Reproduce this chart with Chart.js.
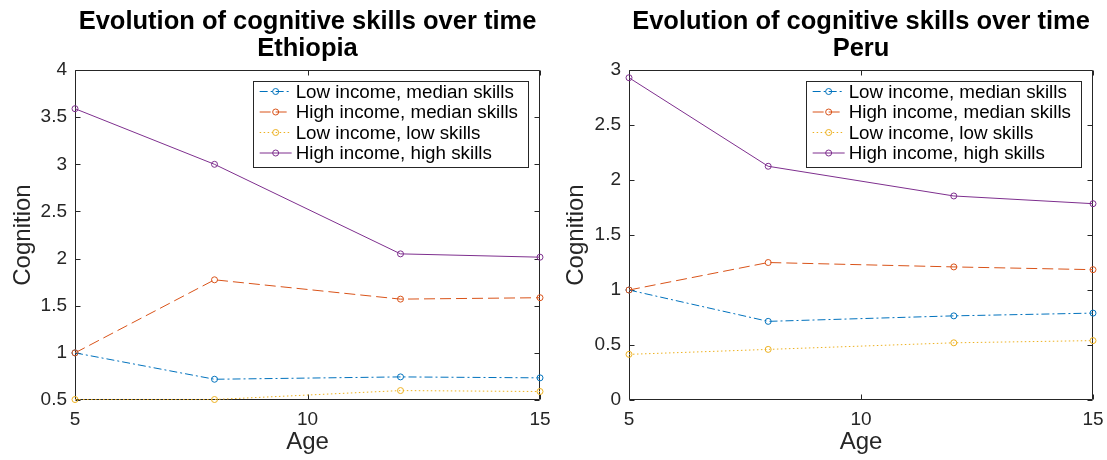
<!DOCTYPE html>
<html>
<head>
<meta charset="utf-8">
<script src="https://cdn.jsdelivr.net/npm/chart.js@4/dist/chart.umd.min.js"></script>
<style>
  html, body { margin: 0; padding: 0; background: #fff; }
  #wrap { position: relative; width: 1107px; height: 460px; overflow: hidden; }
  canvas { position: absolute; top: 0; }
  #left { left: 0; }
  #right { left: 553px; }
</style>
</head>
<body>
<div id="wrap">
  <canvas id="left" width="553" height="460"></canvas>
  <canvas id="right" width="554" height="460"></canvas>
</div>
<script>
// Cognition scores by age for four income/skill groups
const ages = [5, 8, 12, 15];
const seriesNames = [
  'Low income, median skills',
  'High income, median skills',
  'Low income, low skills',
  'High income, high skills'
];

const ethLowMedian  = [1.00, 0.72, 0.745, 0.735];
const ethHighMedian = [1.00, 1.775, 1.57, 1.585];
const ethLowLow     = [0.505, 0.505, 0.60, 0.59];
const ethHighHigh   = [3.59, 3.00, 2.05, 2.015];

const peruLowMedian  = [1.00, 0.715, 0.765, 0.79];
const peruHighMedian = [1.00, 1.25, 1.21, 1.185];
const peruLowLow     = [0.415, 0.46, 0.52, 0.54];
const peruHighHigh   = [2.93, 2.125, 1.855, 1.785];

const xTicks = [5, 10, 15];
const ethYTicks = [0.5, 1, 1.5, 2, 2.5, 3, 3.5, 4];
const peruYTicks = [0, 0.5, 1, 1.5, 2, 2.5, 3];

const titleText = 'Evolution of cognitive skills over time';
const xTitle = 'Age';
const yTitle = 'Cognition';

const FONT = "'Liberation Sans', Arial, Helvetica, sans-serif";
const AXIS = '#262626';
const colors = ['#0072BD', '#D95319', '#EDB120', '#7E2F8E'];
const dashes = [[8, 3, 2, 3], [11, 5], [1.5, 2.5], []];
const TICK = 5;

// Box around the plot area with inward tick marks on all four sides
const framePlugin = {
  id: 'frame',
  beforeDatasetsDraw(chart) {
    const { ctx, chartArea: a, scales: { x, y } } = chart;
    const L = Math.round(a.left) + 0.5, R = Math.round(a.right) - 0.5;
    const T = Math.round(a.top) + 0.5, B = Math.round(a.bottom) - 0.5;
    ctx.save();
    ctx.strokeStyle = AXIS;
    ctx.lineWidth = 1;
    ctx.beginPath();
    ctx.rect(L, T, R - L, B - T);
    x.ticks.forEach(t => {
      const px = Math.round(x.getPixelForValue(t.value)) + 0.5;
      ctx.moveTo(px, B); ctx.lineTo(px, B - TICK);
      ctx.moveTo(px, T); ctx.lineTo(px, T + TICK);
    });
    y.ticks.forEach(t => {
      const py = Math.round(y.getPixelForValue(t.value)) + 0.5;
      ctx.moveTo(L, py); ctx.lineTo(L + TICK, py);
      ctx.moveTo(R, py); ctx.lineTo(R - TICK, py);
    });
    ctx.stroke();
    ctx.restore();
  }
};

// Legend box drawn inside the upper right corner of the plot area
const insideLegend = {
  id: 'insideLegend',
  afterDraw(chart) {
    const { ctx, chartArea: a } = chart;
    const ds = chart.data.datasets;
    ctx.save();
    ctx.font = '18.8px ' + FONT;
    const textW = Math.max(...ds.map(d => ctx.measureText(d.label).width));
    const rowH = 20.5;
    const w = 43 + textW + 10;
    const h = rowH * ds.length + 4;
    const right = Math.round(a.right) - 12;
    const top = Math.round(a.top) + 11;
    const left = right - w;
    ctx.fillStyle = '#fff';
    ctx.fillRect(left, top, w, h);
    ctx.strokeStyle = AXIS;
    ctx.lineWidth = 1;
    ctx.strokeRect(Math.round(left) + 0.5, top + 0.5, Math.round(w), Math.round(h));
    ds.forEach((d, i) => {
      const cy = top + 10.5 + i * rowH;
      ctx.strokeStyle = d.borderColor;
      ctx.setLineDash(d.borderDash || []);
      ctx.beginPath();
      ctx.moveTo(left + 7, cy);
      ctx.lineTo(left + 39, cy);
      ctx.stroke();
      ctx.setLineDash([]);
      ctx.beginPath();
      ctx.arc(left + 23, cy, 3, 0, Math.PI * 2);
      ctx.stroke();
      ctx.fillStyle = '#000';
      ctx.textBaseline = 'middle';
      ctx.textAlign = 'left';
      ctx.fillText(d.label, left + 43, cy + 1);
    });
    ctx.restore();
  }
};

function makeChart(canvasId, country, values, yTicks, yMin, yMax, yWidth, padRight) {
  const datasets = values.map((vals, i) => ({
    label: seriesNames[i],
    data: ages.map((a, j) => ({ x: a, y: vals[j] })),
    borderColor: colors[i],
    borderWidth: 1,
    borderDash: dashes[i],
    pointStyle: 'circle',
    pointRadius: 3,
    pointHoverRadius: 3,
    pointBorderWidth: 1,
    pointBorderColor: colors[i],
    pointBackgroundColor: 'rgba(0,0,0,0)',
    tension: 0,
    fill: false,
    clip: false,
    order: values.length - i
  }));

  return new Chart(document.getElementById(canvasId), {
    type: 'line',
    data: { datasets },
    plugins: [framePlugin, insideLegend],
    options: {
      responsive: false,
      animation: false,
      devicePixelRatio: 1,
      layout: { padding: { left: 0, right: padRight, top: 0, bottom: 0 } },
      plugins: {
        legend: { display: false },
        tooltip: { enabled: false },
        title: {
          display: true,
          text: [titleText, country],
          fullSize: false,
          color: '#000',
          font: { family: FONT, size: 25.5, weight: 'bold', lineHeight: 1.04 },
          padding: { top: 9, bottom: 8 }
        }
      },
      scales: {
        x: {
          type: 'linear',
          min: 5, max: 15,
          afterBuildTicks: s => { s.ticks = xTicks.map(v => ({ value: v })); },
          afterFit: s => { s.height = 60; s.paddingLeft = 0; s.paddingRight = 0; },
          grid: { display: false, drawTicks: false },
          border: { display: false },
          ticks: {
            color: AXIS, padding: 8,
            font: { family: FONT, size: 19 },
            callback: v => String(v)
          },
          title: {
            display: true, text: xTitle, color: AXIS,
            font: { family: FONT, size: 24 },
            padding: { top: 0, bottom: 3 }
          }
        },
        y: {
          type: 'linear',
          min: yMin, max: yMax,
          afterBuildTicks: s => { s.ticks = yTicks.map(v => ({ value: v })); },
          afterFit: s => { s.width = yWidth; s.paddingTop = 0; s.paddingBottom = 0; },
          grid: { display: false, drawTicks: false },
          border: { display: false },
          ticks: {
            color: AXIS, padding: 8,
            font: { family: FONT, size: 19 },
            callback: v => String(v)
          },
          title: {
            display: true, text: yTitle, color: AXIS,
            font: { family: FONT, size: 24 },
            padding: { top: 9, bottom: 0 }
          }
        }
      }
    }
  });
}

makeChart('left', 'Ethiopia',
  [ethLowMedian, ethHighMedian, ethLowLow, ethHighHigh],
  ethYTicks, 0.5, 4, 75, 13);

makeChart('right', 'Peru',
  [peruLowMedian, peruHighMedian, peruLowLow, peruHighHigh],
  peruYTicks, 0, 3, 76, 14);
</script>
</body>
</html>
